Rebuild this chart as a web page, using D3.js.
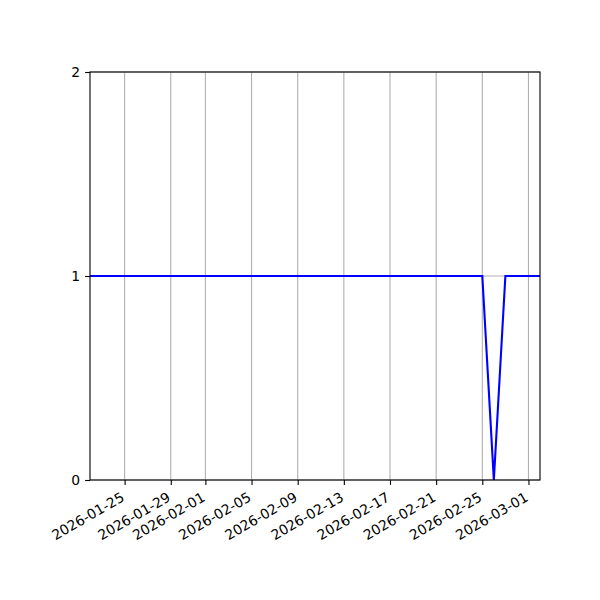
<!DOCTYPE html>
<html>
<head>
<meta charset="utf-8">
<script src="https://cdn.jsdelivr.net/npm/d3@7"></script>
<style>
  body { margin: 0; background: #fff; }
  text { font-family: "DejaVu Sans", sans-serif; }
</style>
</head>
<body>
<svg id="chart"></svg>
<script>
// daily dates shown on the chart
const dates = [
    "2026-01-22", "2026-01-23", "2026-01-24", "2026-01-25", "2026-01-26",
    "2026-01-27", "2026-01-28", "2026-01-29", "2026-01-30", "2026-01-31",
    "2026-02-01", "2026-02-02", "2026-02-03", "2026-02-04", "2026-02-05",
    "2026-02-06", "2026-02-07", "2026-02-08", "2026-02-09", "2026-02-10",
    "2026-02-11", "2026-02-12", "2026-02-13", "2026-02-14", "2026-02-15",
    "2026-02-16", "2026-02-17", "2026-02-18", "2026-02-19", "2026-02-20",
    "2026-02-21", "2026-02-22", "2026-02-23", "2026-02-24", "2026-02-25",
    "2026-02-26", "2026-02-27", "2026-02-28", "2026-03-01", "2026-03-02"
];
const values = [
    1, 1, 1, 1, 1, 1, 1, 1, 1, 1,
    1, 1, 1, 1, 1, 1, 1, 1, 1, 1,
    1, 1, 1, 1, 1, 1, 1, 1, 1, 1,
    1, 1, 1, 1, 1, 0, 1, 1, 1, 1
];
const xTicks = [
    "2026-01-25", "2026-01-29", "2026-02-01", "2026-02-05", "2026-02-09",
    "2026-02-13", "2026-02-17", "2026-02-21", "2026-02-25", "2026-03-01"
];
const yTicks = [0, 1, 2];

const width = 600, height = 600;
const margin = {top: 72, right: 60, bottom: 120, left: 90};
const innerW = width - margin.left - margin.right;
const innerH = height - margin.top - margin.bottom;
const parse = d3.utcParse("%Y-%m-%d");
const fmt = d3.utcFormat("%Y-%m-%d");

const data = dates.map((d, i) => ({date: parse(d), value: values[i]}));

const svg = d3.select("#chart")
    .attr("width", width)
    .attr("height", height);

const chart = svg.append("g")
    .attr("transform", `translate(${margin.left}, ${margin.top})`);

const xscale = d3.scaleUtc()
    .domain(d3.extent(data, d => d.date))
    .range([0, innerW]);

const yscale = d3.scaleLinear()
    .domain([0, 2])
    .range([innerH, 0]);

// grid
chart.append("g")
    .selectAll("line")
    .data(xTicks.map(parse))
    .join("line")
    .attr("x1", d => xscale(d)).attr("x2", d => xscale(d))
    .attr("y1", 0).attr("y2", innerH)
    .attr("stroke", "#b0b0b0")
    .attr("stroke-width", 1.1);

chart.append("g")
    .selectAll("line")
    .data(yTicks)
    .join("line")
    .attr("x1", 0).attr("x2", innerW)
    .attr("y1", d => yscale(d)).attr("y2", d => yscale(d))
    .attr("stroke", "#b0b0b0")
    .attr("stroke-width", 1.1);

// line
const line = d3.line()
    .x(d => xscale(d.date))
    .y(d => yscale(d.value));

chart.append("path")
    .datum(data)
    .attr("fill", "none")
    .attr("stroke", "blue")
    .attr("stroke-width", 2.1)
    .attr("d", line);

// frame
chart.append("rect")
    .attr("width", innerW)
    .attr("height", innerH)
    .attr("fill", "none")
    .attr("stroke", "black")
    .attr("stroke-width", 1.1);

// axes
const xaxis = d3.axisBottom(xscale)
    .tickValues(xTicks.map(parse))
    .tickFormat(fmt)
    .tickSize(4.9)
    .tickPadding(4.9);

const xaxis_group = chart.append("g")
    .attr("transform", `translate(0, ${innerH})`)
    .call(xaxis);

xaxis_group.select(".domain").remove();
xaxis_group.selectAll("line").attr("stroke-width", 1.1);
xaxis_group.selectAll("text")
    .attr("font-size", "13.9px")
    .attr("fill", "black")
    .attr("text-anchor", "end")
    .attr("dy", "0.75em")
    .attr("y", 0)
    .attr("transform", "translate(-5, 11) rotate(-30)");

const yaxis = d3.axisLeft(yscale)
    .tickValues(yTicks)
    .tickFormat(d3.format("d"))
    .tickSize(4.9)
    .tickPadding(4.9);

const yaxis_group = chart.append("g")
    .call(yaxis);

yaxis_group.select(".domain").remove();
yaxis_group.selectAll("line").attr("stroke-width", 1.1);
yaxis_group.selectAll("text")
    .attr("font-size", "13.9px")
    .attr("fill", "black");
</script>
</body>
</html>
